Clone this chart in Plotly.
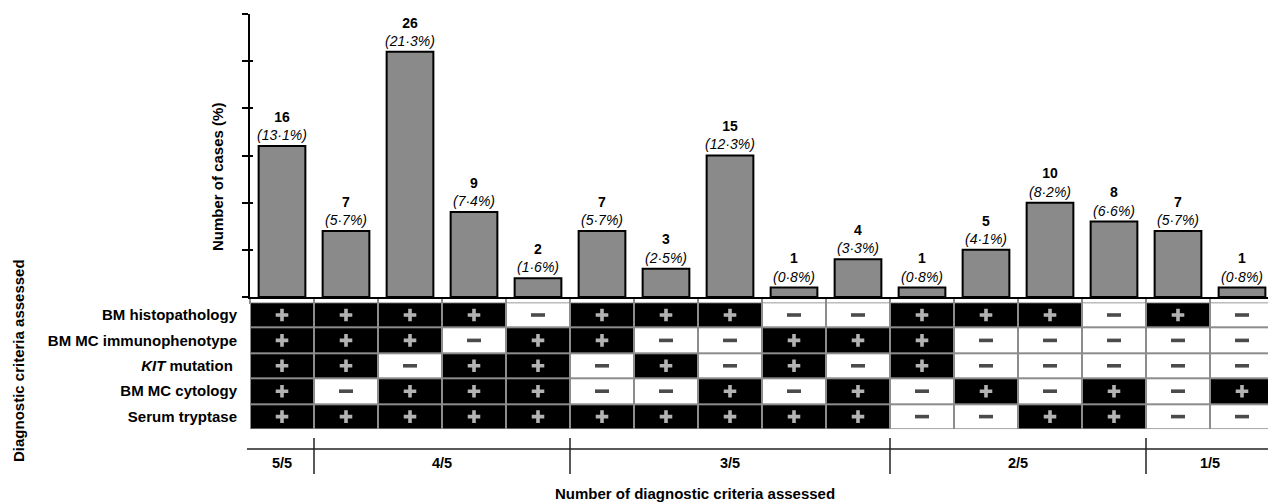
import plotly.graph_objects as go

# ---------------- data ----------------
counts = [16, 7, 26, 9, 2, 7, 3, 15, 1, 4, 1, 5, 10, 8, 7, 1]
percents = ["13·1%", "5·7%", "21·3%", "7·4%", "1·6%", "5·7%", "2·5%", "12·3%",
            "0·8%", "3·3%", "0·8%", "4·1%", "8·2%", "6·6%", "5·7%", "0·8%"]

criteria_labels = ["BM histopathology", "BM MC immunophenotype", "<i>KIT</i> mutation ",
                   "BM MC cytology", "Serum tryptase"]
histopathology  = [1, 1, 1, 1, 0, 1, 1, 1, 0, 0, 1, 1, 1, 0, 1, 0]
immunophenotype = [1, 1, 1, 0, 1, 1, 0, 0, 1, 1, 1, 0, 0, 0, 0, 0]
kit_mutation    = [1, 1, 0, 1, 1, 0, 1, 0, 1, 0, 1, 0, 0, 0, 0, 0]
cytology        = [1, 0, 1, 1, 1, 0, 0, 1, 0, 1, 0, 1, 0, 1, 0, 1]
tryptase        = [1, 1, 1, 1, 1, 1, 1, 1, 1, 1, 0, 0, 1, 1, 0, 0]

group_labels = ["5/5", "4/5", "3/5", "2/5", "1/5"]
group_sizes = [1, 4, 5, 4, 2]

y_ticks = [0, 5, 10, 15, 20, 25, 30]

# ---------------- layout helpers ----------------
W, H = 1268, 502
ML = 250
FONT = "Liberation Sans, Arial, sans-serif"


def py(p):  # pixel row -> paper y
    return (H - p) / H


def px(p):  # pixel column -> paper x
    return (p - ML) / (W - ML)


n = len(counts)
xs = list(range(n))
matrix = [histopathology, immunophenotype, kit_mutation, cytology, tryptase]

fig = go.Figure()

# bars
fig.add_trace(go.Bar(
    x=xs, y=counts, customdata=percents,
    width=0.73,
    marker=dict(color="#8a8a8a", line=dict(color="black", width=2)),
    texttemplate="<b>%{y}</b><br><i>(%{customdata})</i>",
    textposition="outside", constraintext="none", cliponaxis=False,
    textfont=dict(family=FONT, size=14, color="black"),
    xaxis="x", yaxis="y", showlegend=False, hoverinfo="skip",
))

# inside part of crossing y ticks
fig.add_trace(go.Scatter(x=[], y=[], xaxis="x", yaxis="y3", showlegend=False))

# criteria grid
fig.add_trace(go.Heatmap(
    z=matrix, x=xs, y=list(range(len(matrix))),
    colorscale=[[0, "white"], [1, "black"]], zmin=0, zmax=1,
    showscale=False, xgap=2, ygap=2, xaxis="x", yaxis="y2", hoverinfo="skip",
))

# + / - symbols
sx, sy, sym, scol, ssize = [], [], [], [], []
for r, row in enumerate(matrix):
    for c, v in enumerate(row):
        sx.append(c)
        sy.append(r)
        if v:
            sym.append("cross-thin")
            scol.append("white")
            ssize.append(9)
        else:
            sym.append("line-ew")
            scol.append("black")
            ssize.append(10)
fig.add_trace(go.Scatter(
    x=sx, y=sy, mode="markers", xaxis="x", yaxis="y2", showlegend=False,
    hoverinfo="skip",
    marker=dict(symbol=sym, size=ssize, color=scol,
                line=dict(color=scol, width=3.6)),
))

shapes = []
# gray cell borders behind heatmap
shapes.append(dict(type="rect", xref="x", yref="y2", x0=-0.5, x1=n - 0.5,
                   y0=-0.5, y1=len(matrix) - 0.5, fillcolor="#8c8c8c",
                   line=dict(width=0), layer="below"))

# group bracket
shapes.append(dict(type="line", xref="paper", yref="paper", x0=px(247), x1=1,
                   y0=py(449), y1=py(449), line=dict(color="#222", width=1.5)))
annotations = []
start = -0.5
for lab, size in zip(group_labels, group_sizes):
    end = start + size
    annotations.append(dict(text="<b>%s</b>" % lab, x=(start + end) / 2, xref="x",
                            y=py(463), yref="paper", showarrow=False,
                            xanchor="center", yanchor="middle",
                            font=dict(family=FONT, size=14.5, color="black")))
    if end < n - 0.5:
        shapes.append(dict(type="line", xref="x", yref="paper", x0=end, x1=end,
                           y0=py(438), y1=py(474),
                           line=dict(color="#222", width=1.5)))
    start = end

annotations += [
    dict(text="<b>Number of cases (%)</b>", textangle=-90, x=px(217), y=py(177),
         xref="paper", yref="paper", showarrow=False,
         xanchor="center", yanchor="middle",
         font=dict(family=FONT, size=15, color="black")),
    dict(text="<b>Diagnostic criteria assessed</b>", textangle=-90, x=px(18),
         y=py(361), xref="paper", yref="paper", showarrow=False,
         xanchor="center", yanchor="middle",
         font=dict(family=FONT, size=15, color="black")),
    dict(text="<b>Number of diagnostic criteria assessed</b>", x=px(695),
         y=py(493), xref="paper", yref="paper", showarrow=False,
         xanchor="center", yanchor="middle",
         font=dict(family=FONT, size=15, color="black")),
]

x_range = [-0.5, -0.5 + (W - ML) / 64.0]
bar_domain = [py(297), py(14)]

fig.update_layout(
    width=W, height=H,
    margin=dict(l=ML, r=0, t=0, b=0, pad=0),
    paper_bgcolor="white", plot_bgcolor="white",
    font=dict(family=FONT, color="black"),
    bargap=0.27,
    xaxis=dict(range=x_range, anchor="y", showline=True, linecolor="black",
               linewidth=2, tickvals=[i - 0.5 for i in range(n + 1)],
               ticks="outside", ticklen=5, tickcolor="#8c8c8c", tickwidth=1.5,
               showticklabels=False, showgrid=False, zeroline=False,
               fixedrange=True),
    yaxis=dict(domain=bar_domain, range=[0, 30], anchor="x", showline=True,
               linecolor="black", linewidth=2, tickvals=y_ticks,
               ticks="outside", ticklen=6, tickwidth=2, tickcolor="black",
               showticklabels=False, showgrid=False, zeroline=False),
    yaxis3=dict(domain=bar_domain, range=[0, 30], overlaying="y", anchor="x",
                side="left", showline=False, tickvals=y_ticks, ticks="inside",
                ticklen=3, tickwidth=2, tickcolor="black",
                showticklabels=False, showgrid=False, zeroline=False),
    yaxis2=dict(domain=[py(429.3), py(302.3)], range=[len(matrix) - 0.5, -0.5],
                anchor="x", tickvals=list(range(len(matrix))),
                ticktext=["<b>%s</b>" % t for t in criteria_labels],
                ticks="", ticklabelstandoff=12, showline=False, showgrid=False,
                zeroline=False,
                tickfont=dict(family=FONT, size=15, color="black")),
    shapes=shapes,
    annotations=annotations,
)

fig.write_html(
    "out.html",
    config={"displayModeBar": False},
    post_script="document.body.style.margin='0';document.body.style.overflow='hidden';",
)
